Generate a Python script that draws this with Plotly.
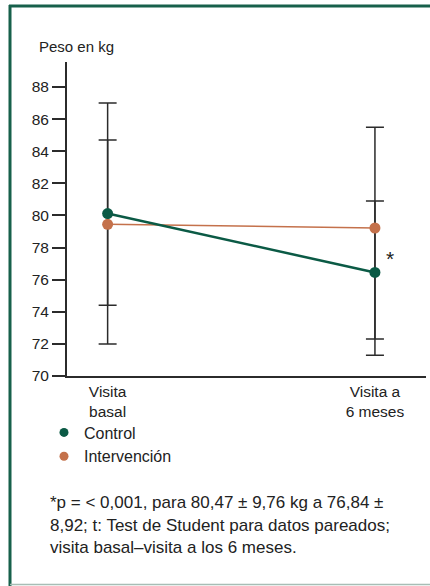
import plotly.graph_objects as go

W, H = 430, 586

categories = ["Visita<br>basal", "Visita a<br>6 meses"]
x_pos = [0, 1]
control = [80.12, 76.45]
intervencion = [79.45, 79.22]
err_outer_low = [72.0, 71.3]
err_outer_high = [87.0, 85.5]
err_inner_low = [74.4, 72.3]
err_inner_high = [84.7, 80.9]
y_ticks = [70, 72, 74, 76, 78, 80, 82, 84, 86, 88]

GREEN = "#0b5a45"
ORANGE = "#c4714b"
DARK = "#2b2b2b"
FONT = "Liberation Sans, Arial, sans-serif"

def px(x):
    return x / W

def py(y):
    return 1 - y / H

fig = go.Figure()

for lo, hi in [(err_outer_low, err_outer_high), (err_inner_low, err_inner_high)]:
    fig.add_trace(go.Scatter(
        x=x_pos, y=control, mode="markers",
        marker=dict(size=1, opacity=0),
        error_y=dict(type="data", symmetric=False,
                     array=[h - c for h, c in zip(hi, control)],
                     arrayminus=[c - l for l, c in zip(lo, control)],
                     color=DARK, thickness=1.5, width=9),
        showlegend=False, hoverinfo="skip"))

fig.add_trace(go.Scatter(
    x=x_pos, y=intervencion, mode="lines+markers", name="Intervención",
    line=dict(color=ORANGE, width=1.5),
    marker=dict(color=ORANGE, size=11), showlegend=False))
fig.add_trace(go.Scatter(
    x=x_pos, y=control, mode="lines+markers", name="Control",
    line=dict(color=GREEN, width=2.5),
    marker=dict(color=GREEN, size=11), showlegend=False))

# legend entries (markers only, as in the reference)
fig.add_trace(go.Scatter(x=[None], y=[None], mode="markers", name="Control",
                         marker=dict(color=GREEN, size=9)))
fig.add_trace(go.Scatter(x=[None], y=[None], mode="markers", name="Intervención",
                         marker=dict(color=ORANGE, size=9)))

fig.add_annotation(x=1, y=77.3, xref="x", yref="y", text="*", showarrow=False,
                   xshift=15, font=dict(size=21, color="#222", family=FONT))
fig.add_annotation(x=px(37), y=py(46), xref="paper", yref="paper",
                   text="Peso en kg", showarrow=False, xanchor="left", yanchor="middle",
                   font=dict(size=15, color="#222", family=FONT))

foot = ["*p = < 0,001, para 80,47 ± 9,76 kg a 76,84 ±",
        "8,92; t: Test de Student para datos pareados;",
        "visita basal–visita a los 6 meses."]
for t, yy in zip(foot, [502, 525, 547]):
    fig.add_annotation(x=px(48), y=py(yy), xref="paper", yref="paper", text=t,
                       showarrow=False, xanchor="left", yanchor="middle",
                       font=dict(size=17, color="#222", family=FONT))

# frame
fig.add_shape(type="line", xref="paper", yref="paper", x0=px(10), x1=px(10), y0=py(5), y1=py(586),
              line=dict(color="#17604b", width=3))
fig.add_shape(type="line", xref="paper", yref="paper", x0=px(9), x1=px(430), y0=py(6), y1=py(6),
              line=dict(color="#17604b", width=3))
fig.add_shape(type="line", xref="paper", yref="paper", x0=px(10), x1=px(430), y0=py(584.5), y1=py(584.5),
              line=dict(color="#a7bdb5", width=1.5))

fig.update_layout(
    width=W, height=H, margin=dict(l=0, r=0, t=0, b=0),
    paper_bgcolor="white", plot_bgcolor="white",
    font=dict(family=FONT, size=16, color="#222"),
    xaxis=dict(domain=[px(67), px(426)], range=[-0.152, 1.191],
               tickvals=x_pos, ticktext=categories, ticks="",
               showline=True, linecolor=DARK, linewidth=2, showgrid=False,
               zeroline=False, tickfont=dict(size=15.5), automargin=False),
    yaxis=dict(domain=[py(376), py(62)], range=[70, 89.56],
               tickvals=y_ticks, ticks="outside", ticklen=13, tickwidth=1.5,
               tickcolor=DARK, showline=True, linecolor=DARK, linewidth=2,
               showgrid=False, zeroline=False, tickfont=dict(size=15.5),
               automargin=False),
    legend=dict(x=px(44), y=py(415.5), xanchor="left", yanchor="top",
                font=dict(size=16, family=FONT), tracegroupgap=0,
                bgcolor="rgba(0,0,0,0)", itemwidth=30),
    showlegend=True,
)

fig.write_html("out.html", config={"displayModeBar": False},
               post_script="document.body.style.margin='0';document.body.style.padding='0';")
